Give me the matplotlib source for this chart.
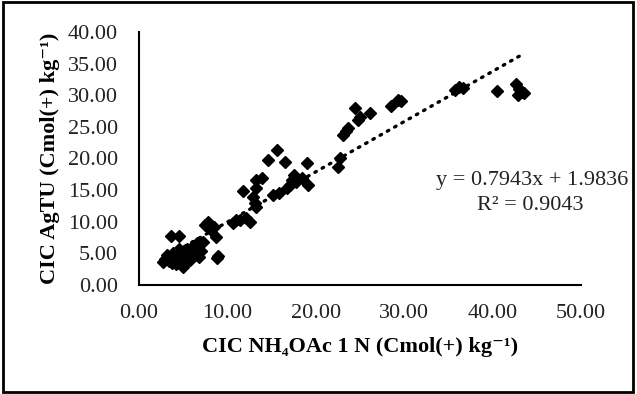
import matplotlib.pyplot as plt
import numpy as np
from matplotlib.patches import Rectangle

# CIC NH4OAc 1 N (x) vs CIC AgTU (y)
x_low = [2.7, 3.0, 3.2, 3.4, 3.5, 3.7, 3.9, 4.0, 4.2, 4.3, 4.5, 4.6, 4.8, 4.9, 5.0,
         5.2, 5.3, 5.4, 5.5, 5.7, 5.8, 6.0, 6.1, 6.3, 6.4, 6.6, 6.8, 7.0, 7.2,
         3.6, 4.5, 8.8, 9.0]
y_low = [3.6, 4.1, 4.8, 3.8, 4.4, 3.5, 5.1, 4.2, 3.3, 4.9, 5.7, 4.0, 3.4, 5.2, 2.9,
         4.6, 3.6, 5.6, 4.3, 5.0, 3.9, 5.8, 6.2, 4.7, 5.4, 6.6, 4.4, 5.3, 6.8,
         7.8, 7.8, 4.3, 4.6]
x_mid = [7.5, 7.8, 8.2, 8.5, 8.7, 10.6, 11.0, 11.4, 12.1, 12.6, 11.8, 12.9, 13.1,
         13.3, 13.2, 13.3, 13.9, 14.6, 15.6, 15.2, 15.9, 16.5, 16.7, 17.1, 17.3,
         17.6, 17.8, 18.4, 19.0, 19.1]
y_mid = [9.5, 10.0, 8.7, 9.2, 7.6, 9.8, 10.2, 10.3, 10.5, 10.0, 14.9, 13.9, 13.0,
         12.3, 15.3, 16.6, 16.9, 19.8, 21.3, 14.2, 14.5, 19.4, 15.3, 15.8, 16.6,
         17.4, 16.3, 16.9, 19.3, 15.8]
x_high = [22.5, 22.7, 23.1, 23.4, 23.6, 24.5, 24.8, 25.0, 26.1, 28.5, 29.3, 29.7,
          35.8, 36.2, 36.7, 40.5, 42.7, 43.0, 43.6, 42.9, 43.3]
y_high = [18.7, 20.0, 23.7, 24.3, 24.8, 28.0, 26.1, 26.6, 27.1, 28.3, 29.3, 29.0,
          30.8, 31.3, 31.1, 30.6, 31.7, 30.9, 30.3, 30.1, 30.5]

slope = 0.7943
intercept = 1.9836
r2 = 0.9043

x = np.array(x_low + x_mid + x_high)
y = np.array(y_low + y_mid + y_high)

plt.rcParams['font.family'] = ['Liberation Serif', 'DejaVu Serif']

fig = plt.figure(figsize=(6.37, 3.94), dpi=100)
ax = fig.add_axes([0.218, 0.277, 0.694, 0.642])

ax.plot(x, y, linestyle='none', marker='D', ms=6.0, color='black')

# linear trend line
xt = np.array([x.min(), x.max()])
ax.plot(xt, slope * xt + intercept, linestyle=(0, (0.5, 2.0)), color='black',
        lw=2.4, dash_capstyle='round')

ax.set_xlim(0, 50)
ax.set_ylim(0, 40)
ax.set_xticks(np.arange(0, 51, 10))
ax.set_yticks(np.arange(0, 41, 5))
ax.xaxis.set_major_formatter(lambda v, p: f'{v:.2f}')
ax.yaxis.set_major_formatter(lambda v, p: f'{v:.2f}')
ax.tick_params(length=0, labelsize=16, colors='#222222')
ax.tick_params(axis='x', pad=14)
ax.tick_params(axis='y', pad=15)
for s in ['top', 'right']:
    ax.spines[s].set_visible(False)
for s in ['left', 'bottom']:
    ax.spines[s].set_linewidth(1.5)

ax.set_xlabel('CIC NH₄OAc 1 N (Cmol(+) kg⁻¹)', fontsize=16,
              fontweight='bold', labelpad=10)
ax.set_ylabel('CIC AgTU (Cmol(+) kg⁻¹)', fontsize=16,
              fontweight='bold', labelpad=6)

# trend line equation, placed in pixel coordinates (origin bottom-left)
ax.text(532, 394 - 180, f'y = {slope}x + {intercept}', transform=None,
        fontsize=16, ha='center', va='center', color='#222222')
ax.text(530, 394 - 205, f'R² = {r2}', transform=None, fontsize=16,
        ha='center', va='center', color='#222222')

fig.patches.append(Rectangle((0.004, 0.005), 0.99, 0.99, transform=fig.transFigure,
                             fill=False, edgecolor='black', lw=2))

fig.savefig('out.png', dpi=100)
